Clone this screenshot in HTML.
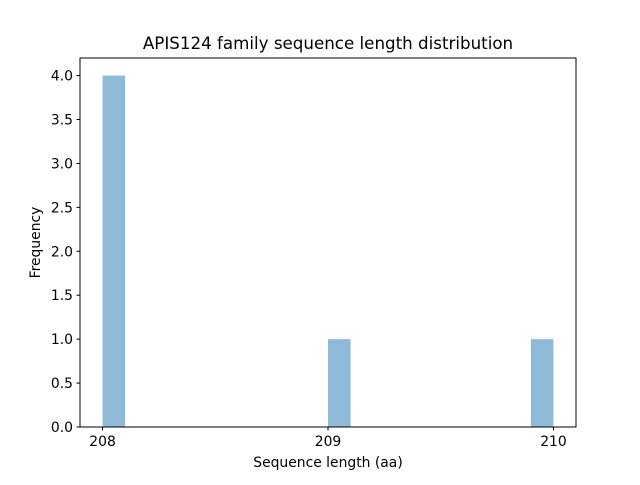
<!DOCTYPE html>
<html><head><meta charset="utf-8"><style>
body{margin:0;background:#fff}
svg text{font-family:"DejaVu Sans","Liberation Sans",sans-serif;fill:#000}
</style></head><body>
<svg id="chart" width="640" height="480" viewBox="0 0 640 480">
<rect width="640" height="480" fill="#fff"/>
<text x="328" y="49" font-size="16.7" text-anchor="middle">APIS124 family sequence length distribution</text>
<g id="bars"></g>
<g id="axes"></g>
<text x="328" y="467" font-size="13.9" text-anchor="middle">Sequence length (aa)</text>
<text transform="translate(40,242.5) rotate(-90)" font-size="13.9" text-anchor="middle">Frequency</text>
</svg>
<script>
const binStarts=[208.0,209.0,209.9];
const binCounts=[4,1,1];
const binWidth=0.1;
const xTicks=[208,209,210];
const yTicks=[0,0.5,1.0,1.5,2.0,2.5,3.0,3.5,4.0];
const L=80,R=576,T=58,B=427;
const xmin=207.9,xmax=210.1,ymin=0,ymax=4.2;
const sx=v=>L+(v-xmin)/(xmax-xmin)*(R-L);
const sy=v=>B-(v-ymin)/(ymax-ymin)*(B-T);
const NS="http://www.w3.org/2000/svg";
const bars=document.getElementById('bars'),axes=document.getElementById('axes');
function mk(t,a,p){const e=document.createElementNS(NS,t);for(const k in a)e.setAttribute(k,a[k]);p.appendChild(e);return e;}
binStarts.forEach((s,i)=>{
 const r=mk('rect',{x:sx(s),y:sy(binCounts[i]),width:sx(s+binWidth)-sx(s),height:sy(0)-sy(binCounts[i]),fill:'#8fbbd9'},bars);
 
 
});
const frame=mk('rect',{x:L,y:T,width:R-L,height:B-T,fill:'none',stroke:'#000','stroke-width':1},axes);


xTicks.forEach(v=>{
 const x=sx(v);
 mk('line',{x1:x,x2:x,y1:B,y2:B+3.5,stroke:'#000'},axes);
 const t=mk('text',{x:x,y:B+19,'font-size':13.9,'text-anchor':'middle'},axes);
 t.textContent=v;
 
 
});
yTicks.forEach(v=>{
 const y=sy(v);
 mk('line',{x1:L-3.5,x2:L,y1:y,y2:y,stroke:'#000'},axes);
 const t=mk('text',{x:L-7,y:y+5,'font-size':13.9,'text-anchor':'end'},axes);
 t.textContent=v.toFixed(1);
 
 
});
</script>
</body></html>
